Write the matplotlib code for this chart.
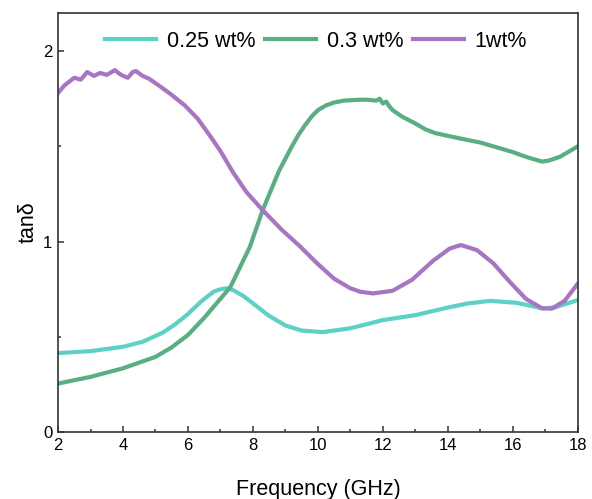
import matplotlib
matplotlib.use("Agg")
import matplotlib.pyplot as plt
from matplotlib.ticker import MultipleLocator

plt.rcParams["font.family"] = ["Liberation Sans", "DejaVu Sans"]

# 0.25 wt%
freq_025 = [2.0, 3.0, 4.0, 4.6, 5.2, 5.6, 6.0, 6.4, 6.8, 7.0, 7.2, 7.4, 7.7, 8.0, 8.5, 9.0,
            9.5, 10.15, 11.0, 12.0, 13.0, 14.0, 14.6, 15.3, 16.1, 16.5, 16.9, 17.3, 18.0]
tan_025 = [0.415, 0.425, 0.448, 0.474, 0.52, 0.565, 0.62, 0.685, 0.738, 0.75, 0.755, 0.745,
           0.715, 0.676, 0.61, 0.56, 0.533, 0.525, 0.545, 0.588, 0.614, 0.654, 0.675, 0.689,
           0.679, 0.665, 0.649, 0.655, 0.693]

# 0.3 wt%
freq_03 = [2.0, 3.0, 4.0, 5.0, 5.5, 6.0, 6.5, 7.0, 7.3, 7.6, 7.9, 8.3, 8.8, 9.2, 9.4, 9.6,
           9.8, 10.0, 10.25, 10.5, 10.8, 11.2, 11.5, 11.8, 11.9, 12.0, 12.1, 12.2, 12.3,
           12.6, 13.0, 13.3, 13.6, 14.0, 14.5, 15.0, 15.6, 16.0, 16.4, 16.9, 17.1, 17.45, 18.0]
tan_03 = [0.255, 0.29, 0.335, 0.395, 0.445, 0.51, 0.60, 0.70, 0.76, 0.865, 0.97, 1.165,
          1.37, 1.50, 1.56, 1.61, 1.655, 1.69, 1.715, 1.73, 1.74, 1.744, 1.745, 1.74, 1.75,
          1.725, 1.735, 1.71, 1.69, 1.655, 1.62, 1.59, 1.57, 1.555, 1.537, 1.52, 1.49, 1.47,
          1.445, 1.42, 1.425, 1.445, 1.50]

# 1 wt%
freq_1 = [2.0, 2.2, 2.5, 2.7, 2.9, 3.1, 3.3, 3.5, 3.75, 3.9, 4.0, 4.15, 4.3, 4.4, 4.6, 4.8,
          5.1, 5.5, 5.9, 6.3, 6.7, 7.0, 7.4, 7.8, 8.3, 8.9, 9.45, 9.95, 10.5, 11.0, 11.3,
          11.7, 12.3, 12.9, 13.55, 14.05, 14.4, 14.9, 15.4, 15.9, 16.4, 16.9, 17.2, 17.6, 18.0]
tan_1 = [1.78, 1.82, 1.86, 1.85, 1.89, 1.87, 1.885, 1.875, 1.90, 1.88, 1.87, 1.86, 1.89,
         1.895, 1.87, 1.855, 1.82, 1.77, 1.715, 1.645, 1.55, 1.475, 1.36, 1.26, 1.165, 1.06,
         0.975, 0.89, 0.805, 0.755, 0.737, 0.728, 0.742, 0.80, 0.90, 0.963, 0.982, 0.955,
         0.886, 0.79, 0.70, 0.65, 0.648, 0.69, 0.78]

SERIES = [
    ("0.25 wt%", freq_025, tan_025, "#5ED1C6"),
    ("0.3 wt%", freq_03, tan_03, "#59AE82"),
    ("1wt%", freq_1, tan_1, "#A874C4"),
]

fig = plt.figure(figsize=(5.92, 4.99), dpi=100)
ax = fig.add_axes([0.098, 0.134, 0.878, 0.84])

for label, x, y, color in SERIES:
    ax.plot(x, y, color=color, lw=3, label=label, solid_joinstyle="round")

ax.set_xlim(2, 18)
ax.set_ylim(0, 2.2)
ax.xaxis.set_major_locator(MultipleLocator(2))
ax.xaxis.set_minor_locator(MultipleLocator(1))
ax.yaxis.set_major_locator(MultipleLocator(1))
ax.yaxis.set_minor_locator(MultipleLocator(0.5))

for side in ("top", "bottom", "left", "right"):
    ax.spines[side].set_color("#333333")
    ax.spines[side].set_linewidth(1.2)
ax.tick_params(which="both", direction="in", top=False, right=False, color="#333333",
               labelsize=12, width=1.1)
ax.tick_params(which="major", length=4)
ax.tick_params(which="minor", length=2.5)
ax.tick_params(axis="x", pad=4)
ax.tick_params(axis="y", pad=4)

ax.set_xlabel("Frequency (GHz)", fontsize=15.5, labelpad=19)
ax.set_ylabel("tanδ", fontsize=15.5, labelpad=3)

ax.legend(loc="center", bbox_to_anchor=(0.496, 0.933), ncol=3, frameon=False,
          fontsize=15.5, handlelength=2.4, handletextpad=0.47, columnspacing=0.45)

fig.savefig("out.png", dpi=100, facecolor="white")
